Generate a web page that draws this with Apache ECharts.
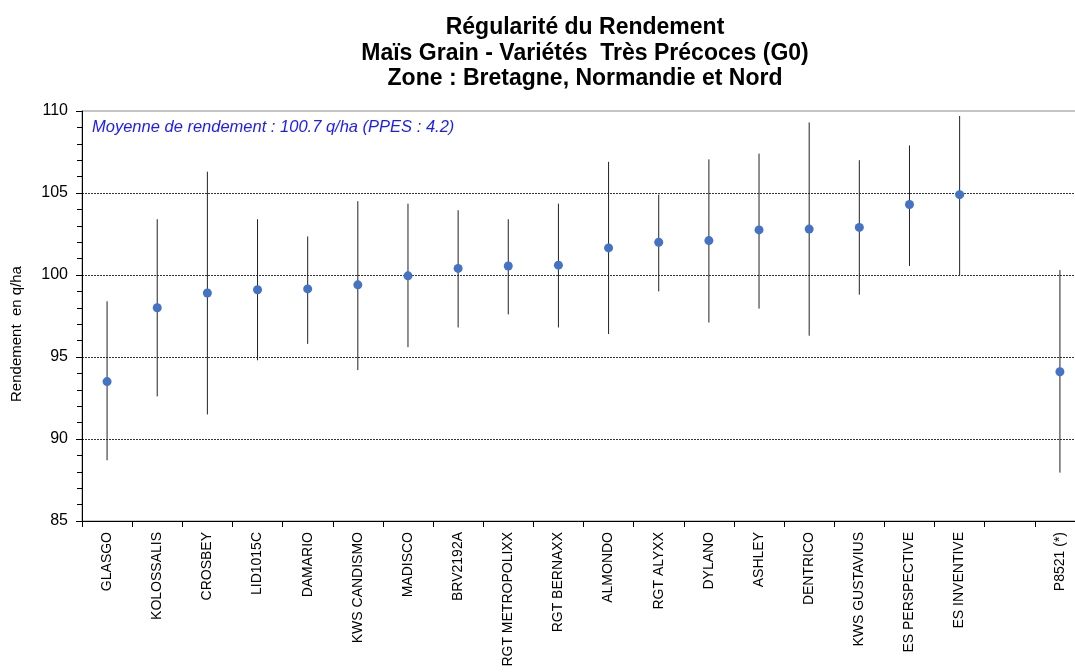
<!DOCTYPE html>
<html>
<head>
<meta charset="utf-8">
<script src="https://cdn.jsdelivr.net/npm/echarts@6/dist/echarts.min.js"></script>
<style>
  html, body { margin: 0; padding: 0; background: #fff; }
  #main { width: 1075px; height: 672px; }
</style>
</head>
<body>
<div id="main"></div>
<script>
// varietes (le creneau vide separe les temoins)
var varietes = ['GLASGO', 'KOLOSSALIS', 'CROSBEY', 'LID1015C', 'DAMARIO', 'KWS CANDISMO', 'MADISCO',
  'BRV2192A', 'RGT METROPOLIXX', 'RGT BERNAXX', 'ALMONDO', 'RGT ALYXX', 'DYLANO', 'ASHLEY',
  'DENTRICO', 'KWS GUSTAVIUS', 'ES PERSPECTIVE', 'ES INVENTIVE', '', 'P8521 (*)'];
var rendement = [93.5, 98.0, 98.9, 99.1, 99.15, 99.4, 99.95, 100.4, 100.55, 100.6, 101.65, 102.0,
  102.1, 102.75, 102.8, 102.9, 104.3, 104.9, null, 94.1];
var minRdt = [88.7, 92.6, 91.5, 94.8, 95.8, 94.2, 95.6, 96.8, 97.6, 96.8, 96.4, 99.0,
  97.1, 97.95, 96.3, 98.8, 100.55, 100.0, null, 87.95];
var maxRdt = [98.4, 103.4, 106.3, 103.4, 102.35, 104.5, 104.35, 103.95, 103.4, 104.35, 106.9, 104.9,
  107.05, 107.4, 109.3, 107.0, 107.9, 109.7, null, 100.3];
var yTicks = [85, 90, 95, 100, 105, 110];

var barres = [];
for (var i = 0; i < varietes.length; i++) {
  if (rendement[i] != null) barres.push([i, minRdt[i], maxRdt[i]]);
}

var chart = echarts.init(document.getElementById('main'));
var font = 'Liberation Sans, Arial, sans-serif';

var option = {
  animation: false,
  backgroundColor: '#fff',
  title: {
    text: 'Régularité du Rendement\nMaïs Grain - Variétés  Très Précoces (G0)\nZone : Bretagne, Normandie et Nord',
    left: 580,
    top: 10,
    textAlign: 'center',
    textStyle: { fontFamily: font, fontSize: 23, fontWeight: 'bold', color: '#000', lineHeight: 25.5 }
  },
  graphic: [{
    type: 'text',
    left: 92,
    top: 119,
    style: {
      text: 'Moyenne de rendement : 100.7 q/ha (PPES : 4.2)',
      fill: '#1a1aff',
      font: 'italic 16.5px ' + font
    }
  }, {
    type: 'text',
    x: 17,
    y: 334,
    rotation: Math.PI / 2,
    style: {
      text: 'Rendement  en q/ha',
      fill: '#000',
      font: '15px ' + font,
      align: 'center',
      verticalAlign: 'middle'
    }
  }],
  grid: {
    left: 82, width: 1003, top: 111, bottom: 151,
    outerBoundsMode: 'none',
    show: true, borderColor: '#8c8c8c', borderWidth: 1
  },
  xAxis: {
    type: 'category',
    data: varietes,
    boundaryGap: true,
    axisLine: { lineStyle: { color: '#000', width: 1 } },
    axisTick: { show: true, alignWithLabel: false, length: 6, lineStyle: { color: '#000' } },
    axisLabel: { interval: 0, rotate: 90, margin: 11, color: '#000', fontFamily: font, fontSize: 14 },
    splitLine: { show: false }
  },
  yAxis: {
    type: 'value',
    min: 85, max: 110, interval: 5,
    axisLine: { show: true, lineStyle: { color: '#000', width: 1 } },
    axisTick: { show: true, length: 6, lineStyle: { color: '#000' } },
    minorTick: { show: true, splitNumber: 5, length: 5, lineStyle: { color: '#000' } },
    axisLabel: {
      color: '#000', fontFamily: font, fontSize: 16, margin: 14,
      formatter: function (v) { return yTicks.indexOf(v) >= 0 ? String(v) : ''; }
    },
    splitLine: {
      show: true,
      lineStyle: {
        color: ['rgba(0,0,0,0)', '#000', '#000', '#000', '#000', 'rgba(0,0,0,0)'],
        type: [2, 1], width: 0.8
      }
    }
  },
  series: [
    {
      type: 'custom',
      data: barres,
      z: 2,
      renderItem: function (params, api) {
        var bas = api.coord([api.value(0), api.value(1)]);
        var haut = api.coord([api.value(0), api.value(2)]);
        return {
          type: 'line',
          shape: { x1: bas[0], y1: bas[1], x2: haut[0], y2: haut[1] },
          style: { stroke: '#222', lineWidth: 1 }
        };
      }
    },
    {
      type: 'scatter',
      data: rendement,
      symbolSize: 9,
      z: 3,
      itemStyle: { color: '#4472c4', opacity: 1 }
    }
  ]
};

chart.setOption(option);
</script>
</body>
</html>
